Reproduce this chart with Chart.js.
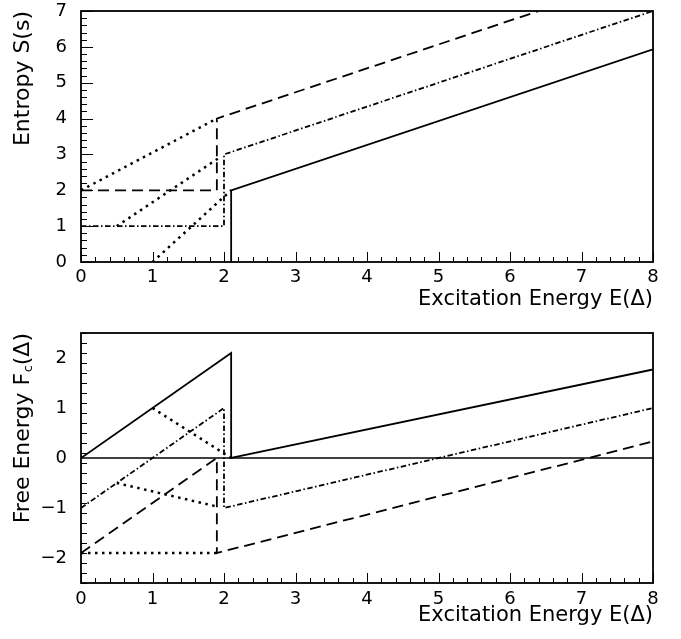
<!DOCTYPE html>
<html lang="en">
<head>
  <meta charset="UTF-8">
  <title>Entropy and Free Energy</title>
  <script src="https://cdn.jsdelivr.net/npm/chart.js"></script>
  <style>
    body { margin: 0; background: #fff; }
    .box { position: absolute; left: 0; }
  </style>
</head>
<body>
  <div class="box" style="top:0"><canvas id="chartEntropy" width="681" height="315"></canvas></div>
  <div class="box" style="top:315px"><canvas id="chartFree" width="681" height="324"></canvas></div>

  <script>
    // tick labels
    const xTicks = [0, 1, 2, 3, 4, 5, 6, 7, 8];
    const topYTicks = [0, 1, 2, 3, 4, 5, 6, 7];
    const botYTicks = [-2, -1, 0, 1, 2];

    // entropy panel
    const topSolidX = [2.1, 2.1, 8];
    const topSolidY = [0, 2, 5.93];
    const topDashX = [0, 1.9, 1.9, 6.4];
    const topDashY = [2, 2, 4, 7];
    const topDashDotX = [0, 2, 2, 8];
    const topDashDotY = [1, 1, 3, 7];
    const topDot1X = [0, 1.9];
    const topDot1Y = [2, 4];
    const topDot2X = [0.5, 1.95];
    const topDot2Y = [1, 2.93];
    const topDot3X = [1, 2.1];
    const topDot3Y = [0, 2];

    // free energy panel
    const botSolidX = [0, 2.1, 2.1, 8];
    const botSolidY = [0, 2.1, 0, 1.77];
    const botDashDotX = [0, 2, 2, 8];
    const botDashDotY = [-1, 1, -1, 1];
    const botDashX = [0, 1.9, 1.9, 8];
    const botDashY = [-1.9, 0, -1.9, 0.33];
    const botDot1X = [1, 2.1];
    const botDot1Y = [1, 0];
    const botDot2X = [0.5, 1.9];
    const botDot2Y = [-0.5, -0.97];
    const botDot3X = [0, 1.9];
    const botDot3Y = [-1.9, -1.9];
    const zeroX = [0, 8];
    const zeroY = [0, 0];

    const minorStep = 0.2;
    const FONT = 'DejaVu Sans';

    function pts(xs, ys) {
      return xs.map((x, i) => ({ x: x, y: ys[i] }));
    }

    function line(xs, ys, style) {
      const ds = { data: pts(xs, ys), showLine: true, pointRadius: 0, borderColor: '#000', borderWidth: 1.8, fill: false, tension: 0 };
      if (style === 'dash') ds.borderDash = [11, 6];
      if (style === 'dashdot') ds.borderDash = [5.5, 2.5, 1.5, 2.5];
      if (style === 'dot') { ds.borderDash = [2.5, 4.5]; ds.borderWidth = 2.5; }
      if (style === 'thin') ds.borderWidth = 1.4;
      return ds;
    }

    // frame + inside ticks, like the old ROOT plots
    const frameTicks = {
      id: 'frameTicks',
      afterDatasetsDraw(chart) {
        const { ctx, chartArea: a, scales: { x, y } } = chart;
        ctx.save();
        ctx.strokeStyle = '#000';
        ctx.lineWidth = 1;
        ctx.beginPath();
        const nx = Math.round((x.max - x.min) / minorStep);
        for (let i = 0; i <= nx; i++) {
          const px = Math.round(x.getPixelForValue(x.min + i * minorStep)) + 0.5;
          const len = i % 5 === 0 ? 10 : 5;
          ctx.moveTo(px, a.bottom);
          ctx.lineTo(px, a.bottom - len);
        }
        const ny = Math.round((y.max - y.min) / minorStep);
        for (let i = 0; i <= ny; i++) {
          const v = y.min + i * minorStep;
          const py = Math.round(y.getPixelForValue(v)) + 0.5;
          const len = Math.abs(v - Math.round(v)) < 1e-6 ? 12 : 6;
          ctx.moveTo(a.left, py);
          ctx.lineTo(a.left + len, py);
        }
        ctx.stroke();
        ctx.lineWidth = 1.8;
        ctx.strokeRect(a.left, a.top, a.right - a.left, a.bottom - a.top);
        ctx.restore();
      }
    };

    // y title with subscript c for the lower panel
    const freeTitle = {
      id: 'freeTitle',
      afterDraw(chart) {
        if (chart.canvas.id !== 'chartFree') return;
        const { ctx, chartArea: a } = chart;
        ctx.save();
        ctx.translate(23, a.top);
        ctx.rotate(-Math.PI / 2);
        ctx.fillStyle = '#000';
        ctx.textBaseline = 'middle';
        ctx.textAlign = 'right';
        ctx.font = '22px "' + FONT + '"';
        const tail = '(\u0394)';
        ctx.fillText(tail, 0, 0);
        let off = ctx.measureText(tail).width;
        ctx.font = '13px "' + FONT + '"';
        ctx.fillText('c', -off, 6);
        off += ctx.measureText('c').width + 0.5;
        ctx.font = '22px "' + FONT + '"';
        ctx.fillText('Free Energy F', -off, 0);
        ctx.restore();
      }
    };

    function tickLabel(v) {
      return v < 0 ? '\u2212' + Math.abs(v) : String(v);
    }

    function makeChart(id, datasets, yMin, yMax, yTicks, yTitle, xHeight, padTop, xPad, titlePad) {
      return new Chart(document.getElementById(id), {
        type: 'scatter',
        data: { datasets: datasets },
        options: {
          responsive: false,
          animation: false,
          layout: { padding: { top: padTop, right: 28, left: 0, bottom: 0 } },
          plugins: { legend: { display: false }, tooltip: { enabled: false } },
          scales: {
            x: {
              type: 'linear', min: 0, max: 8,
              grid: { display: false, drawTicks: false },
              border: { display: false },
              ticks: { padding: xPad, color: '#000', font: { family: FONT, size: 18 }, maxRotation: 0, callback: tickLabel },
              afterBuildTicks(scale) { scale.ticks = xTicks.map(v => ({ value: v })); },
              title: { display: true, text: 'Excitation Energy E(\u0394)', align: 'end', color: '#000', font: { family: FONT, size: 21 }, padding: { top: 0, bottom: titlePad } },
              afterFit(scale) { scale.height = xHeight; scale.paddingLeft = 0; scale.paddingRight = 0; }
            },
            y: {
              type: 'linear', min: yMin, max: yMax,
              grid: { display: false, drawTicks: false },
              border: { display: false },
              ticks: { padding: 14, color: '#000', font: { family: FONT, size: 18 }, callback: tickLabel },
              afterBuildTicks(scale) { scale.ticks = yTicks.map(v => ({ value: v })); },
              title: { display: !!yTitle, text: yTitle || '', align: 'end', color: '#000', font: { family: FONT, size: 22 }, padding: { top: 10, bottom: 0 } },
              afterFit(scale) { scale.width = 81; scale.paddingTop = 0; scale.paddingBottom = 0; }
            }
          }
        },
        plugins: [frameTicks, freeTitle]
      });
    }

    makeChart('chartEntropy', [
      line(topSolidX, topSolidY, 'solid'),
      line(topDashX, topDashY, 'dash'),
      line(topDashDotX, topDashDotY, 'dashdot'),
      line(topDot1X, topDot1Y, 'dot'),
      line(topDot2X, topDot2Y, 'dot'),
      line(topDot3X, topDot3Y, 'dot')
    ], 0, 7, topYTicks, 'Entropy S(s)', 53, 11, 5, 3);

    makeChart('chartFree', [
      line(zeroX, zeroY, 'thin'),
      line(botSolidX, botSolidY, 'solid'),
      line(botDashDotX, botDashDotY, 'dashdot'),
      line(botDashX, botDashY, 'dash'),
      line(botDot1X, botDot1Y, 'dot'),
      line(botDot2X, botDot2Y, 'dot'),
      line(botDot3X, botDot3Y, 'dot')
    ], -2.5, 2.5, botYTicks, null, 56, 18, 6, 11);
  </script>
</body>
</html>
